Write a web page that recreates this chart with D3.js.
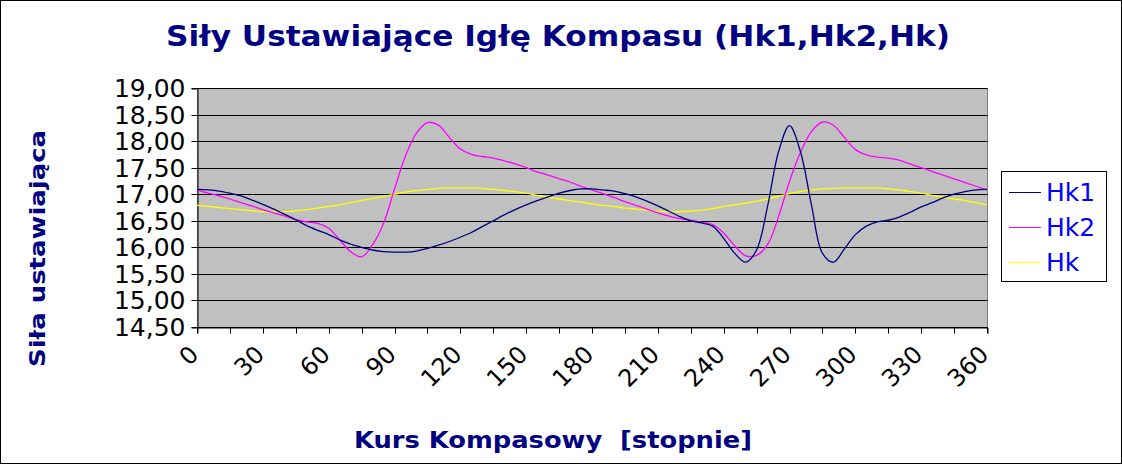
<!DOCTYPE html>
<html><head><meta charset="utf-8">
<script src="https://cdn.jsdelivr.net/npm/d3@7"></script>
<style>html,body{margin:0;padding:0;background:#fff;}svg{display:block;}</style>
</head><body>
<svg id="chart" width="1122" height="464"></svg>
<script>
const title = "Siły Ustawiające Igłę Kompasu (Hk1,Hk2,Hk)";
const xTitle = "Kurs Kompasowy  [stopnie]";
const yTitle = "Siła ustawiająca";
const seriesNames = ["Hk1", "Hk2", "Hk"];
const seriesColors = ["#000080", "#FF00FF", "#FFFF00"];
const yTicks = [14.5, 15, 15.5, 16, 16.5, 17, 17.5, 18, 18.5, 19];
const xTickMarks = [0,15,30,45,60,75,90,105,120,135,150,165,180,195,210,225,240,255,270,285,300,315,330,345,360];
const xTickLabels = [0,30,60,90,120,150,180,210,240,270,300,330,360];

const degrees = [0,5,10,15,20,25,30,35,40,45,50,55,60,65,70,75,80,85,90,95,100,105,110,115,120,125,130,135,140,145,150,155,160,165,170,175,180,185,190,195,200,205,210,215,220,225,230,235,240,245,250,255,260,265,270,275,280,285,290,295,300,305,310,315,320,325,330,335,340,345,350,355,360];

const hk1 = [17.09,17.08,17.06,17.02,16.97,16.89,16.81,16.72,16.62,16.52,16.41,16.32,16.24,16.14,16.06,16.00,15.95,15.92,15.91,15.91,15.93,15.98,16.04,16.11,16.19,16.28,16.39,16.50,16.61,16.71,16.80,16.88,16.95,17.02,17.07,17.10,17.10,17.08,17.06,17.01,16.95,16.87,16.78,16.68,16.58,16.50,16.46,16.40,16.17,15.89,15.72,15.95,16.77,17.80,18.29,17.80,16.80,15.89,15.72,15.97,16.24,16.40,16.48,16.51,16.57,16.66,16.76,16.84,16.93,17.00,17.05,17.08,17.09];

const hk2 = [17.08,17.02,16.97,16.91,16.84,16.78,16.71,16.65,16.59,16.52,16.48,16.45,16.36,16.14,15.92,15.82,16.05,16.45,17.10,17.72,18.15,18.35,18.30,18.07,17.85,17.75,17.71,17.68,17.63,17.57,17.50,17.42,17.36,17.29,17.23,17.15,17.08,17.01,16.94,16.86,16.79,16.72,16.65,16.59,16.54,16.51,16.47,16.43,16.27,16.03,15.84,15.85,16.05,16.58,17.24,17.79,18.18,18.36,18.30,18.07,17.84,17.74,17.70,17.68,17.64,17.57,17.50,17.43,17.36,17.29,17.22,17.15,17.08];

const hk = [16.79,16.77,16.75,16.73,16.71,16.69,16.67,16.67,16.67,16.69,16.71,16.74,16.77,16.80,16.84,16.88,16.92,16.96,17.00,17.04,17.07,17.09,17.11,17.12,17.12,17.12,17.11,17.09,17.07,17.05,17.02,16.98,16.94,16.91,16.88,16.85,16.82,16.79,16.77,16.74,16.72,16.70,16.68,16.67,16.67,16.68,16.70,16.73,16.77,16.80,16.83,16.87,16.91,16.96,17.01,17.05,17.08,17.10,17.11,17.12,17.12,17.12,17.12,17.10,17.08,17.05,17.02,16.98,16.94,16.91,16.88,16.84,16.80];

const seriesValues = [hk1, hk2, hk];

const svg = d3.select("#chart");
const W = 1122, H = 464;
const L = 197, R = 987, T = 88, B = 327;

svg.append("rect").attr("x",0.5).attr("y",0.5).attr("width",W-1).attr("height",H-1)
  .attr("fill","#fff").attr("stroke","#000").attr("stroke-width",1);

const x = d3.scaleLinear().domain([0,360]).range([L, R]);
const y = d3.scaleLinear().domain([14.5,19]).range([B, T]);

// plot area
svg.append("rect").attr("x",L+0.5).attr("y",T+0.5).attr("width",R-L).attr("height",B-T)
  .attr("fill","#C0C0C0").attr("stroke","#808080");

// gridlines
svg.append("g").selectAll("line").data(yTicks).join("line")
  .attr("x1",L).attr("x2",R+0.5)
  .attr("y1",d=>Math.round(y(d))+0.5).attr("y2",d=>Math.round(y(d))+0.5)
  .attr("stroke","#000").attr("stroke-width",1);

const fmt = d => d3.format(".2f")(d).replace(".", ",");

// y axis
const yAxis = svg.append("g").attr("transform",`translate(${L+0.5},0.5)`)
  .call(d3.axisLeft(y).tickValues(yTicks).tickSize(6).tickPadding(6).tickFormat(fmt));
yAxis.select(".domain").attr("stroke","#000");
yAxis.selectAll(".tick line").attr("stroke","#000");
yAxis.selectAll(".tick text").attr("font-family","DejaVu Sans").attr("font-size",25).attr("fill","#000");
yAxis.selectAll(".tick").attr("transform", d => `translate(0,${Math.round(y(d))})`);

// x axis
const xAxis = svg.append("g").attr("transform",`translate(0.5,${B+0.5})`)
  .call(d3.axisBottom(x).tickValues(xTickMarks).tickSize(6).tickFormat(""));
xAxis.select(".domain").attr("stroke","#000");
xAxis.selectAll(".tick line").attr("stroke","#000");
xAxis.selectAll(".tick").attr("transform", d => `translate(${Math.round(x(d))},0)`);

svg.append("g").selectAll("text").data(xTickLabels).join("text")
  .attr("transform", d => `translate(${x(d)+3},${B+29}) rotate(-45)`)
  .attr("text-anchor","end")
  .attr("font-family","DejaVu Sans").attr("font-size",24).attr("fill","#000")
  .text(d => d);

// lines
const plotG = svg.append("g");
seriesValues.slice().reverse().forEach((vals, ri) => {
  const i = seriesValues.length - 1 - ri;
  const pts = degrees.map((d,k) => [d, vals[k]]);
  const line = d3.line().x(p => x(p[0])).y(p => y(p[1])).curve(d3.curveCatmullRom.alpha(0.5));
  plotG.append("path").datum(pts).attr("d", line)
    .attr("fill","none").attr("stroke",seriesColors[i]).attr("stroke-width",1.3);
});

// title
svg.append("text").attr("x",558).attr("y",46).attr("text-anchor","middle")
  .attr("font-family","DejaVu Sans").attr("font-weight","bold").attr("font-size",28)
  .attr("fill","#000080").attr("textLength",784).attr("lengthAdjust","spacingAndGlyphs")
  .text(title);

// x title
svg.append("text").attr("x",553).attr("y",448).attr("text-anchor","middle")
  .attr("font-family","DejaVu Sans").attr("font-weight","bold").attr("font-size",23)
  .attr("fill","#000080").attr("textLength",398).attr("lengthAdjust","spacingAndGlyphs")
  .attr("xml:space","preserve")
  .text(xTitle);

// y title
svg.append("text").attr("transform","translate(45,248.5) rotate(-90)").attr("text-anchor","middle")
  .attr("font-family","DejaVu Sans").attr("font-weight","bold").attr("font-size",22)
  .attr("fill","#000080").attr("textLength",237).attr("lengthAdjust","spacingAndGlyphs")
  .text(yTitle);

// legend
const lg = svg.append("g");
lg.append("rect").attr("x",1001.5).attr("y",171.5).attr("width",105).attr("height",110)
  .attr("fill","#fff").attr("stroke","#000");
seriesNames.forEach((n,i) => {
  const ly = 191.5 + i*35.2;
  lg.append("line").attr("x1",1009).attr("x2",1041).attr("y1",Math.round(ly)+0.5).attr("y2",Math.round(ly)+0.5)
    .attr("stroke",seriesColors[i]).attr("stroke-width",1);
  lg.append("text").attr("x",1046).attr("y",ly+9).attr("font-family","DejaVu Sans").attr("font-size",25)
    .attr("fill","#0000FF").text(n);
});
</script>
</body></html>
